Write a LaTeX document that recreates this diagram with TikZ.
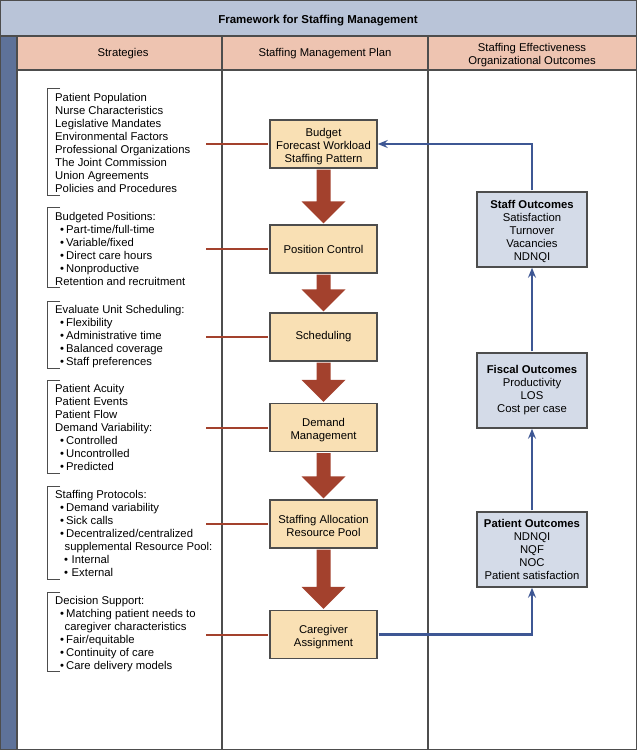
\documentclass[tikz,border=0pt]{standalone}
\usepackage{fontspec}
\setmainfont{Liberation Sans}
\usetikzlibrary{arrows.meta,calc}
\definecolor{titlebg}{HTML}{B9C4D8}
\definecolor{stripc}{HTML}{5E7299}
\definecolor{headbg}{HTML}{EEC4B1}
\definecolor{planbg}{HTML}{F9E0B4}
\definecolor{outbg}{HTML}{D4DBE8}
\definecolor{redc}{HTML}{A3412D}
\definecolor{bluec}{HTML}{3E5794}
\definecolor{linec}{HTML}{4D4D4D}
\newcommand\bu[1]{\hspace*{5pt}\makebox[6pt][l]{•}#1}
\newcommand\bc[1]{\hspace*{9.5pt}#1}
\newcommand\bbu[1]{\hspace*{9pt}\makebox[7.5pt][l]{•}#1}
\newcommand\lift{\rule{0pt}{13pt}}
\newcommand\bigarr[2]{\fill[redc] ($(#1.south)+(-7,0.8)$) -- ($(#2.north)+(-7,-23)$) -- ($(#2.north)+(-22,-23)$) -- ($(#2.north)+(0,-0.8)$) -- ($(#2.north)+(22,-23)$) -- ($(#2.north)+(7,-23)$) -- ($(#1.south)+(7,0.8)$) -- cycle;}
\begin{document}
\begin{tikzpicture}[x=1pt,y=-1pt,
 txt/.style={font=\fontsize{11.3}{13}\selectfont, inner sep=0pt},
 grp/.style={txt, align=left, anchor=north west},
 plan/.style={txt, draw=linec, line width=1.5pt, fill=planbg, minimum width=107pt, minimum height=48pt, align=center},
 outc/.style={txt, draw=linec, line width=1.5pt, fill=outbg, minimum width=110pt, minimum height=75pt, align=center},
 redline/.style={draw=redc, line width=2pt, shorten >=0.8pt},
 blueline/.style={draw=bluec, line width=2.5pt, shorten <=0.8pt, -{Stealth[length=10pt,width=8pt,inset=3.5pt]}},
 brk/.style={draw=linec, line width=0.9pt},
 gridl/.style={draw=linec, line width=1.3pt}]
\useasboundingbox (0,0) rectangle (637,750);
\fill[titlebg] (0,0) rectangle (637,36);
\fill[headbg] (17,36) rectangle (637,70);
\fill[stripc] (0,36) rectangle (17,750);
\draw[gridl] (0,36) -- (637,36);
\draw[gridl] (17,70) -- (637,70);
\draw[gridl] (17,36) -- (17,750);
\draw[gridl] (222,36) -- (222,750);
\draw[gridl] (428,36) -- (428,750);
\draw[gridl] (0.65,0.65) rectangle (636.35,749.35);

\node[txt, font=\fontsize{11.5}{13}\selectfont\bfseries] (title) at (318,20.5) {Framework for Staffing Management};
\node[txt] (h1) at (123,54) {Strategies};
\node[txt] (h2) at (325,54) {Staffing Management Plan};
\node[txt, align=center] (h3) at (532,55.5) {Staffing Effectiveness\\Organizational Outcomes};

% plan boxes
\node[plan] (budget) at (323.5,144) {\lift Budget\\Forecast Workload\\Staffing Pattern};
\node[plan] (position) at (323.5,249) {Position Control};
\node[plan] (sched) at (323.5,337) {Scheduling};
\node[plan] (demand) at (323.5,427.5) {\lift Demand\\Management};
\node[plan] (alloc) at (323.5,524) {\lift Staffing Allocation\\Resource Pool};
\node[plan] (care) at (323.5,634.5) {\lift Caregiver\\Assignment};

\bigarr{budget}{position}
\bigarr{position}{sched}
\bigarr{sched}{demand}
\bigarr{demand}{alloc}
\bigarr{alloc}{care}

% outcome boxes
\node[outc] (staff) at (532,229.5) {\lift\textbf{Staff Outcomes}\\Satisfaction\\Turnover\\Vacancies\\NDNQI};
\node[outc] (fiscal) at (532,390.5) {\textbf{Fiscal Outcomes}\\Productivity\\LOS\\Cost per case};
\node[outc] (patient) at (532,549.5) {\textbf{Patient Outcomes}\\NDNQI\\NQF\\NOC\\Patient satisfaction};

\draw[blueline] (staff.north) |- (budget.east);
\draw[blueline] (fiscal.north) -- (staff.south);
\draw[blueline] (patient.north) -- (fiscal.south);
\draw[blueline] (care.east) -| (patient.south);

% strategy groups
\node[grp] (g1) at (55,92.8) {Patient Population\\Nurse Characteristics\\Legislative Mandates\\Environmental Factors\\Professional Organizations\\The Joint Commission\\Union Agreements\\Policies and Procedures};
\node[grp] (g2) at (55,211.8) {Budgeted Positions:\\\bu{Part-time/full-time}\\\bu{Variable/fixed}\\\bu{Direct care hours}\\\bu{Nonproductive}\\Retention and recruitment};
\node[grp] (g3) at (55,304.8) {Evaluate Unit Scheduling:\\\bu{Flexibility}\\\bu{Administrative time}\\\bu{Balanced coverage}\\\bu{Staff preferences}};
\node[grp] (g4) at (55,383.8) {Patient Acuity\\Patient Events\\Patient Flow\\Demand Variability:\\\bu{Controlled}\\\bu{Uncontrolled}\\\bu{Predicted}};
\node[grp] (g5) at (55,489.8) {Staffing Protocols:\\\bu{Demand variability}\\\bu{Sick calls}\\\bu{Decentralized/centralized}\\\bc{supplemental Resource Pool:}\\\bbu{Internal}\\\bbu{External}};
\node[grp] (g6) at (55,595.8) {Decision Support:\\\bu{Matching patient needs to}\\\bc{caregiver characteristics}\\\bu{Fair/equitable}\\\bu{Continuity of care}\\\bu{Care delivery models}};

% brackets
\draw[brk] (60,88) -- (47,88) -- (47,195) -- (60,195);
\draw[brk] (60,207) -- (47,207) -- (47,287) -- (60,287);
\draw[brk] (60,301) -- (47,301) -- (47,368) -- (60,368);
\draw[brk] (60,380) -- (47,380) -- (47,473) -- (60,473);
\draw[brk] (60,486) -- (47,486) -- (47,579) -- (60,579);
\draw[brk] (60,592) -- (47,592) -- (47,671) -- (60,671);

% red connectors
\coordinate (rx) at (206,0);
\draw[redline] (rx |- budget.west) -- (budget.west);
\draw[redline] (rx |- position.west) -- (position.west);
\draw[redline] (rx |- sched.west) -- (sched.west);
\draw[redline] (rx |- demand.west) -- (demand.west);
\draw[redline] (rx |- alloc.west) -- (alloc.west);
\draw[redline] (rx |- care.west) -- (care.west);
\end{tikzpicture}
\end{document}
